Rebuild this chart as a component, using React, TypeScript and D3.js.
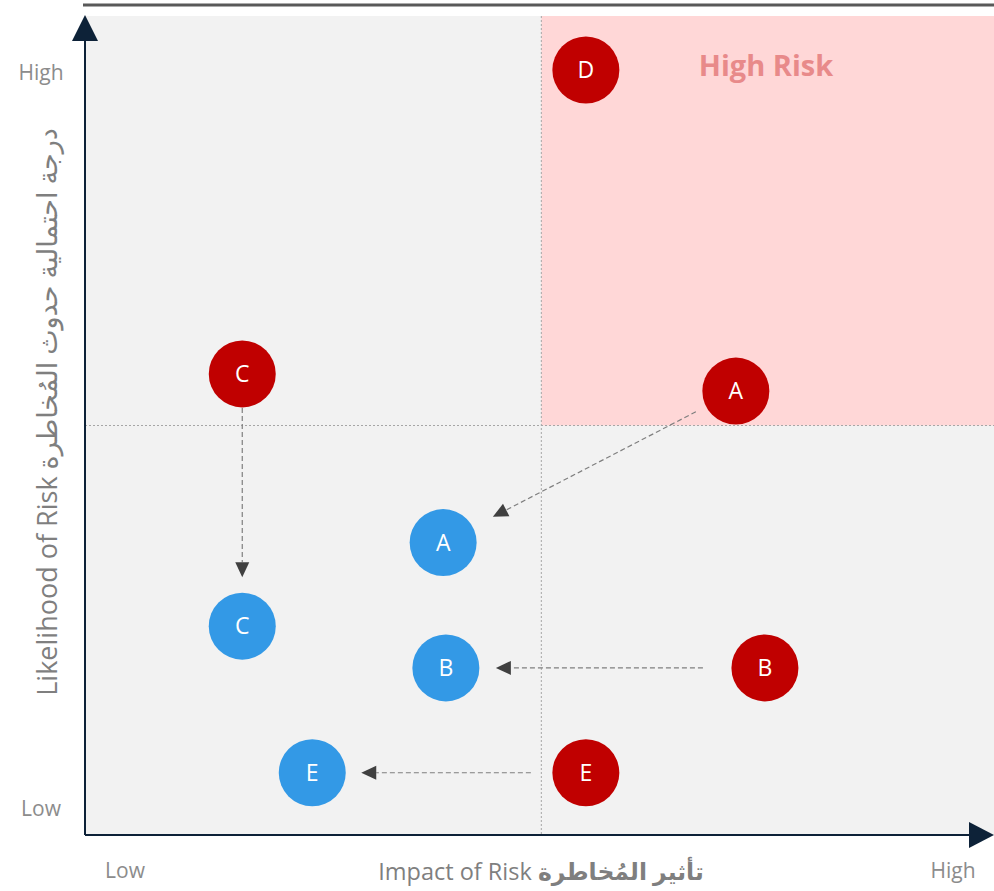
import React, { useEffect, useRef } from 'react';
import * as d3 from 'd3';

// risk positions on a 0..1 impact / likelihood scale
const currentLabels = ['D', 'A', 'C', 'B', 'E'];
const currentImpact = [0.551, 0.716, 0.173, 0.748, 0.551];
const currentLikelihood = [0.934, 0.542, 0.563, 0.204, 0.076];

const targetLabels = ['A', 'C', 'B', 'E'];
const targetImpact = [0.394, 0.173, 0.397, 0.25];
const targetLikelihood = [0.357, 0.255, 0.204, 0.076];

const moves = ['A', 'C', 'B', 'E'];
const moveStartGap = [45, 34, 62, 55];
const moveEndGap = [56, 49, 50, 49];

const axisLevels = ['Low', 'High'];
const midImpact = 0.502;
const midLikelihood = 0.5;

const W = 994;
const H = 891;
const font = "'Open Sans', 'DejaVu Sans', sans-serif";

export default function App() {
  const svgRef = useRef<SVGSVGElement>(null);

  useEffect(() => {
    if (!svgRef.current) return;
    const svg = d3.select(svgRef.current);
    svg.selectAll('*').remove();

    const x = d3.scaleLinear().domain([0, 1]).range([85, 994]);
    const y = d3.scaleLinear().domain([0, 1]).range([835, 16]);
    const navy = '#0d2238';

    // top rule
    svg.append('line')
      .attr('x1', 83).attr('x2', W).attr('y1', 5).attr('y2', 5)
      .attr('stroke', '#595959').attr('stroke-width', 3);

    // background and high risk quadrant
    svg.append('rect')
      .attr('x', x(0)).attr('y', y(1))
      .attr('width', x(1) - x(0)).attr('height', y(0) - y(1))
      .attr('fill', '#f2f2f2');
    svg.append('rect')
      .attr('x', x(midImpact)).attr('y', y(1))
      .attr('width', x(1) - x(midImpact)).attr('height', y(midLikelihood) - y(1))
      .attr('fill', '#ffd7d7');

    // quadrant dividers
    svg.append('line')
      .attr('x1', x(midImpact)).attr('x2', x(midImpact)).attr('y1', y(1)).attr('y2', y(0))
      .attr('stroke', '#a6a6a6').attr('stroke-width', 1).attr('stroke-dasharray', '2,2');
    svg.append('line')
      .attr('x1', x(0)).attr('x2', x(1)).attr('y1', y(midLikelihood)).attr('y2', y(midLikelihood))
      .attr('stroke', '#a6a6a6').attr('stroke-width', 1).attr('stroke-dasharray', '2,2');

    svg.append('text')
      .attr('x', 766).attr('y', 76)
      .attr('text-anchor', 'middle')
      .attr('font-family', font).attr('font-weight', 700).attr('font-size', 29)
      .attr('fill', '#e88a8a')
      .text('High Risk');

    // axes with arrowheads
    svg.append('line')
      .attr('x1', x(0)).attr('x2', x(0)).attr('y1', y(0)).attr('y2', 38)
      .attr('stroke', navy).attr('stroke-width', 2);
    svg.append('path')
      .attr('d', `M${x(0)},15 L${x(0) - 13},41 L${x(0) + 13},41 Z`)
      .attr('fill', navy);
    svg.append('line')
      .attr('x1', x(0)).attr('x2', 972).attr('y1', y(0)).attr('y2', y(0))
      .attr('stroke', navy).attr('stroke-width', 2);
    svg.append('path')
      .attr('d', `M994,${y(0)} L969,${y(0) - 13} L969,${y(0) + 13} Z`)
      .attr('fill', navy);

    // level labels
    const grey = '#8c8c8c';
    svg.selectAll('.ylev')
      .data(axisLevels)
      .enter()
      .append('text')
      .attr('x', 41)
      .attr('y', (_d, i) => (i === 0 ? 816 : 80))
      .attr('text-anchor', 'middle')
      .attr('font-family', font).attr('font-size', 21)
      .attr('fill', grey)
      .text(d => d);
    svg.selectAll('.xlev')
      .data(axisLevels)
      .enter()
      .append('text')
      .attr('x', (_d, i) => (i === 0 ? 125 : 953))
      .attr('y', 878)
      .attr('text-anchor', 'middle')
      .attr('font-family', font).attr('font-size', 21)
      .attr('fill', grey)
      .text(d => d);

    // axis titles
    const xt = svg.append('text')
      .attr('x', 541).attr('y', 880)
      .attr('text-anchor', 'middle')
      .attr('font-family', font).attr('font-size', 23.5)
      .attr('fill', '#7f7f7f');
    xt.append('tspan').text('Impact of Risk ');
    xt.append('tspan').attr('font-weight', 700).text('تأثير المُخاطرة');

    svg.append('text')
      .attr('transform', 'translate(57,412) rotate(-90)')
      .attr('text-anchor', 'middle')
      .attr('font-family', font).attr('font-size', 27)
      .attr('fill', '#7f7f7f')
      .text('Likelihood of Risk درجة احتمالية حدوث المُخاطرة');

    // movement arrows (current -> target)
    moves.forEach((lab, i) => {
      const ci = currentLabels.indexOf(lab);
      const ti = targetLabels.indexOf(lab);
      const x1 = x(currentImpact[ci]);
      const y1 = y(currentLikelihood[ci]);
      const x2 = x(targetImpact[ti]);
      const y2 = y(targetLikelihood[ti]);
      const len = Math.hypot(x2 - x1, y2 - y1);
      const ux = (x2 - x1) / len;
      const uy = (y2 - y1) / len;
      const sx = x1 + ux * moveStartGap[i];
      const sy = y1 + uy * moveStartGap[i];
      const ex = x2 - ux * moveEndGap[i];
      const ey = y2 - uy * moveEndGap[i];
      const head = 15;
      const bx = ex - ux * head;
      const by = ey - uy * head;
      svg.append('line')
        .attr('x1', sx).attr('y1', sy).attr('x2', bx).attr('y2', by)
        .attr('stroke', '#7f7f7f').attr('stroke-width', 1.2).attr('stroke-dasharray', '5,3');
      svg.append('path')
        .attr('d', `M${ex},${ey} L${bx - uy * 7},${by + ux * 7} L${bx + uy * 7},${by - ux * 7} Z`)
        .attr('fill', '#404040');
    });

    const drawDots = (labels: string[], xs: number[], ys: number[], color: string) => {
      const g = svg.append('g');
      const dots = g.selectAll('g')
        .data(labels)
        .enter()
        .append('g')
        .attr('transform', (_d, i) => `translate(${x(xs[i])},${y(ys[i])})`);
      dots.append('circle').attr('r', 33.5).attr('fill', color);
      dots.append('text')
        .attr('text-anchor', 'middle')
        .attr('dy', '0.36em')
        .attr('font-family', font).attr('font-size', 23)
        .attr('fill', '#ffffff')
        .text(d => d);
    };
    drawDots(currentLabels, currentImpact, currentLikelihood, '#c00000');
    drawDots(targetLabels, targetImpact, targetLikelihood, '#3399e6');
  }, []);

  return (
    <svg
      ref={svgRef}
      width={W}
      height={H}
      style={{ position: 'absolute', left: 0, top: 0, background: '#ffffff' }}
    />
  );
}
